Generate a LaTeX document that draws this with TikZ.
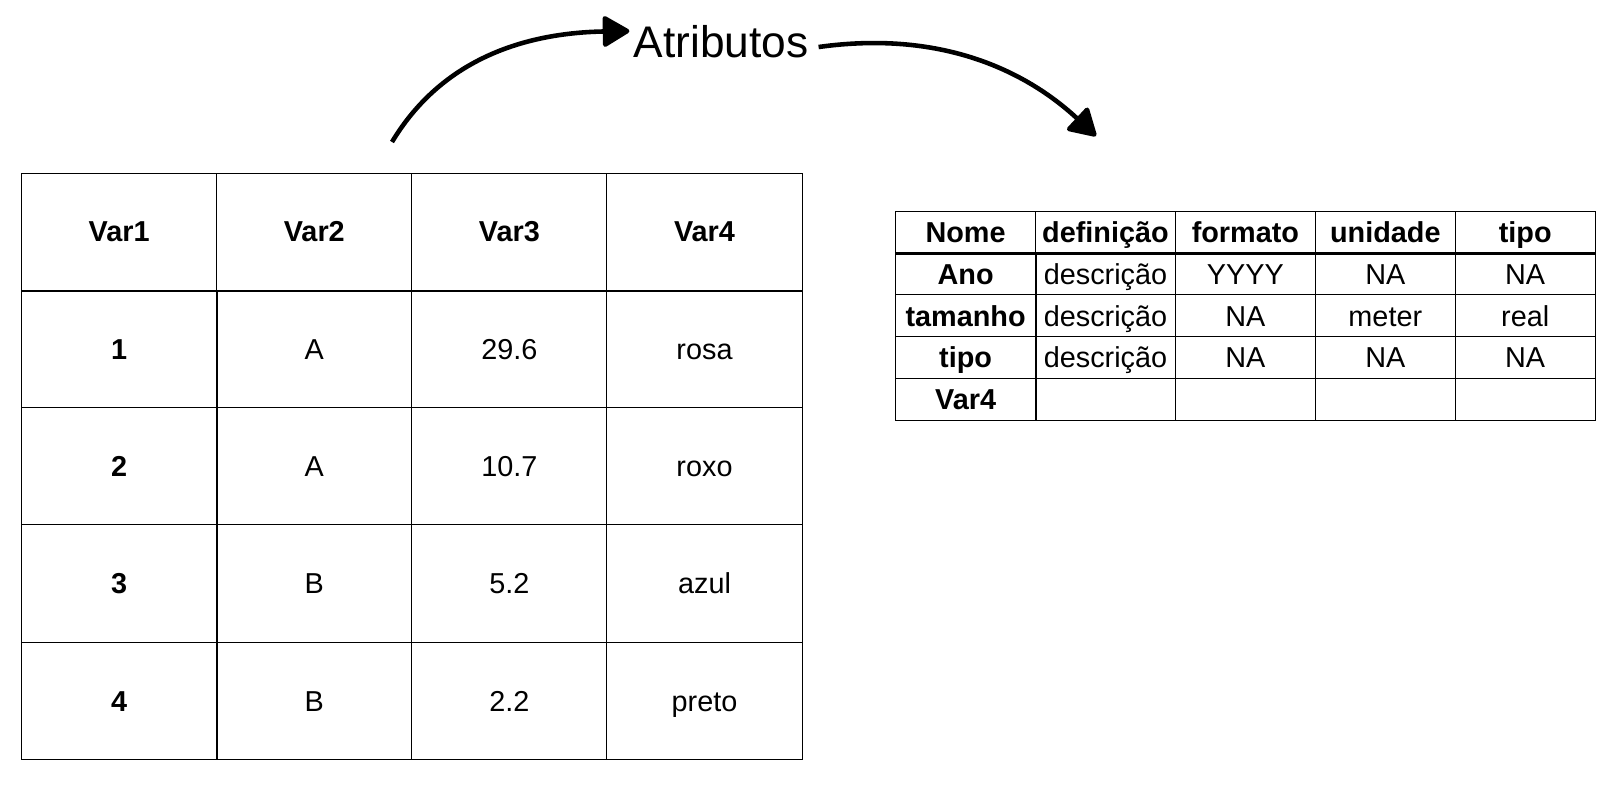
\documentclass[tikz,border=0pt]{standalone}
\usepackage{fontspec}
\setmainfont{Liberation Sans}
\usepackage{tikz}
\usetikzlibrary{arrows.meta}

\newcommand{\cellfont}{\fontsize{8.2}{9.8}\selectfont}
\newcommand{\labelfont}{\fontsize{12.6}{15}\selectfont}

\begin{document}
\begin{tikzpicture}
\tikzstyle{cell}  = [rectangle, draw=black, line width=0.3pt, minimum width=1.951cm, minimum height=1.173cm, inner sep=0pt, text height=7.4pt, text depth=1.6pt, font=\cellfont]
\tikzstyle{hcell} = [cell, font=\cellfont\bfseries]
\tikzstyle{mcell} = [cell, minimum width=1.399cm, minimum height=0.419cm]
\tikzstyle{mhead} = [mcell, font=\cellfont\bfseries]
\tikzstyle{sep}   = [line width=0.6pt, black]
\tikzstyle{flow}  = [-{Triangle[length=2.9mm, width=3.3mm, round]}, line width=1.3pt, black]
\useasboundingbox (0,0) rectangle (16.18,-7.84);
% data table
\node[hcell] at (1.192, -2.317) (d0_0){Var1};
\node[hcell] at (3.143, -2.317) (d0_1){Var2};
\node[hcell] at (5.094, -2.317) (d0_2){Var3};
\node[hcell] at (7.045, -2.317) (d0_3){Var4};
\node[hcell] at (1.192, -3.490) (d1_0){1};
\node[cell]  at (3.143, -3.490) (d1_1){A};
\node[cell]  at (5.094, -3.490) (d1_2){29.6};
\node[cell]  at (7.045, -3.490) (d1_3){rosa};
\node[hcell] at (1.192, -4.663) (d2_0){2};
\node[cell]  at (3.143, -4.663) (d2_1){A};
\node[cell]  at (5.094, -4.663) (d2_2){10.7};
\node[cell]  at (7.045, -4.663) (d2_3){roxo};
\node[hcell] at (1.192, -5.836) (d3_0){3};
\node[cell]  at (3.143, -5.836) (d3_1){B};
\node[cell]  at (5.094, -5.836) (d3_2){5.2};
\node[cell]  at (7.045, -5.836) (d3_3){azul};
\node[hcell] at (1.192, -7.009) (d4_0){4};
\node[cell]  at (3.143, -7.009) (d4_1){B};
\node[cell]  at (5.094, -7.009) (d4_2){2.2};
\node[cell]  at (7.045, -7.009) (d4_3){preto};
% metadata table
\node[mhead] at (9.656, -2.320) (m0_0){Nome};
\node[mhead] at (11.055, -2.320) (m0_1){definição};
\node[mhead] at (12.454, -2.320) (m0_2){formato};
\node[mhead] at (13.853, -2.320) (m0_3){unidade};
\node[mhead] at (15.252, -2.320) (m0_4){tipo};
\node[mhead] at (9.656, -2.739) (m1_0){Ano};
\node[mcell] at (11.055, -2.739) (m1_1){descrição};
\node[mcell] at (12.454, -2.739) (m1_2){YYYY};
\node[mcell] at (13.853, -2.739) (m1_3){NA};
\node[mcell] at (15.252, -2.739) (m1_4){NA};
\node[mhead] at (9.656, -3.158) (m2_0){tamanho};
\node[mcell] at (11.055, -3.158) (m2_1){descrição};
\node[mcell] at (12.454, -3.158) (m2_2){NA};
\node[mcell] at (13.853, -3.158) (m2_3){meter};
\node[mcell] at (15.252, -3.158) (m2_4){real};
\node[mhead] at (9.656, -3.577) (m3_0){tipo};
\node[mcell] at (11.055, -3.577) (m3_1){descrição};
\node[mcell] at (12.454, -3.577) (m3_2){NA};
\node[mcell] at (13.853, -3.577) (m3_3){NA};
\node[mcell] at (15.252, -3.577) (m3_4){NA};
\node[mhead] at (9.656, -3.996) (m4_0){Var4};
\node[mcell] at (11.055, -3.996) (m4_1){};
\node[mcell] at (12.454, -3.996) (m4_2){};
\node[mcell] at (13.853, -3.996) (m4_3){};
\node[mcell] at (15.252, -3.996) (m4_4){};
% header rules
\draw[sep] (d0_0.south west) -- (d0_3.south east);
\draw[sep] (d1_0.north east) -- (d4_0.south east);
\draw[sep] (m0_0.south west) -- (m0_4.south east);
\draw[sep] (m1_0.north east) -- (m4_0.south east);
% label and arrows
\node[inner sep=1pt, font=\labelfont] at (7.21, -0.42) (lbl){Atributos};
\coordinate (src) at (3.92, -1.42);
\coordinate (dst) at (10.96, -1.36);
\draw[flow] (src) .. controls (4.40, -0.62) and (5.20, -0.33) .. ([yshift=0.11cm]lbl.west);
\draw[flow] ([xshift=0.06cm, yshift=-0.05cm]lbl.east) .. controls (9.40, -0.30) and (10.25, -0.70) .. (dst);
\end{tikzpicture}
\end{document}
